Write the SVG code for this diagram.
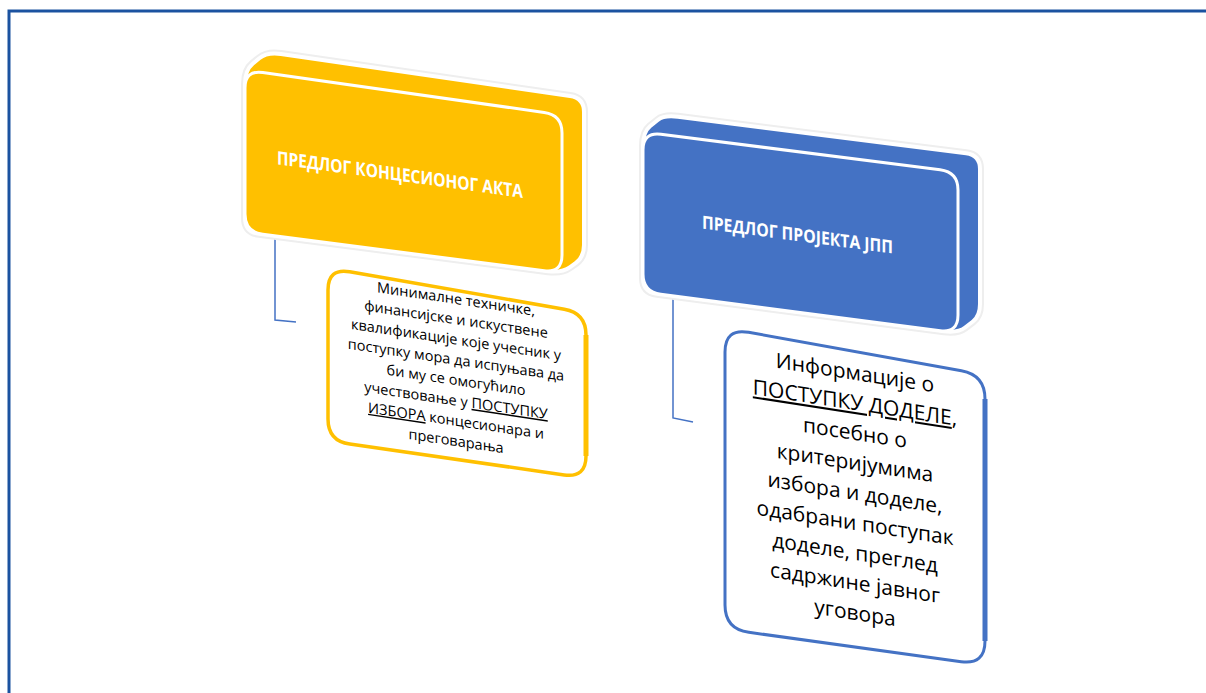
<svg xmlns="http://www.w3.org/2000/svg" width="1206" height="693" viewBox="0 0 1206 693">
  <style>
    .halo { fill: none; stroke: #eeeeee; stroke-width: 8; stroke-linejoin: round; }
    .hullY { fill: #FFC000; stroke: #ffffff; stroke-width: 4; stroke-linejoin: round; }
    .hullB { fill: #4472C4; stroke: #ffffff; stroke-width: 4; stroke-linejoin: round; }
    .faceY { fill: #FFC000; stroke: #ffffff; stroke-width: 3; }
    .faceB { fill: #4472C4; stroke: #ffffff; stroke-width: 3; }
    .detY { fill: #ffffff; stroke: #FFC000; stroke-width: 3.5; }
    .detB { fill: #ffffff; stroke: #4472C4; stroke-width: 3; }
    .title { font-family: "Open Sans", "Noto Sans", sans-serif; font-weight: 700; fill: #ffffff; text-anchor: middle; }
    .body { font-family: "Open Sans", "Noto Sans", sans-serif; font-weight: 500; fill: #000000; text-anchor: middle; }
    .conn { fill: none; stroke: #4472C4; stroke-width: 1.5; }
    .u { text-decoration: underline; }
  </style>
  <rect x="0" y="0" width="1206" height="693" fill="#ffffff"/>
  <path d="M 9,693 L 9,11 L 1206,11" fill="none" stroke="#1B52A0" stroke-width="3"/>

  <g id="connectors">
    <path class="conn" d="M 275,236 L 275,320 L 296,322"/>
    <path class="conn" d="M 673,296 L 673,418 L 693,422"/>
  </g>

  <g id="node-concession-act">
    <path class="halo" d="M 245,218 L 245,84 Q 245,70 252.7,63.7 L 259.3,58.3 Q 267,52 280.9,54 L 570.1,96 Q 584,98 584,112 L 584,245 Q 584,257 575.9,262.9 L 570.1,267.1 Q 562,273 548.1,271.2 L 258.9,233.8 Q 245,232 245,218 Z"/>
    <path class="hullY" d="M 245,218 L 245,84 Q 245,70 252.7,63.7 L 259.3,58.3 Q 267,52 280.9,54 L 570.1,96 Q 584,98 584,112 L 584,245 Q 584,257 575.9,262.9 L 570.1,267.1 Q 562,273 548.1,271.2 L 258.9,233.8 Q 245,232 245,218 Z"/>
    <path class="faceY" d="M 245,214 L 245,88 Q 245,70 262.8,72.5 L 544.2,112.5 Q 562,115 562,133 L 562,255 Q 562,273 544.2,270.7 L 262.8,234.3 Q 245,232 245,214 Z"/>
    <text class="title" font-size="18.5" transform="translate(400,181) skewY(7.8)" x="0" y="0" textLength="246" lengthAdjust="spacingAndGlyphs">ПРЕДЛОГ КОНЦЕСИОНОГ АКТА</text>
  </g>

  <g id="node-concession-detail">
    <path class="detY" d="M 328,419 L 328,290 Q 328,268 349.7,271.8 L 564.3,309.2 Q 586,313 586,335 L 586,456 Q 586,478 564.2,474.9 L 349.8,444.1 Q 328,441 328,419 Z"/>
    <path d="M 586,335 L 586,456" fill="none" stroke="#FFC000" stroke-width="5"/>
    <g class="body" font-size="14.5" transform="translate(456,0) skewY(8.5)">
      <text x="0" y="304">Минималне техничке,</text>
      <text x="0" y="324.3">финансијске и искуствене</text>
      <text x="0" y="344.6">квалификације које учесник у</text>
      <text x="0" y="364.9">поступку мора да испуњава да</text>
      <text x="0" y="385.2">би му се омогућило</text>
      <text x="0" y="405.5">учествовање у <tspan class="u">ПОСТУПКУ</tspan></text>
      <text x="0" y="425.8"><tspan class="u">ИЗБОРА</tspan> концесионара и</text>
      <text x="0" y="446.1">преговарања</text>
    </g>
  </g>

  <g id="node-ppp-project">
    <path class="halo" d="M 643,278 L 643,146 Q 643,132 650,126.3 L 657.8,120 Q 664,115 677.9,116.8 L 966.1,153.2 Q 980,155 980,169 L 980,304 Q 980,316 972.9,321.5 L 965.1,327.5 Q 958,333 944.1,331.2 L 656.9,293.8 Q 643,292 643,278 Z"/>
    <path class="hullB" d="M 643,278 L 643,146 Q 643,132 650,126.3 L 657.8,120 Q 664,115 677.9,116.8 L 966.1,153.2 Q 980,155 980,169 L 980,304 Q 980,316 972.9,321.5 L 965.1,327.5 Q 958,333 944.1,331.2 L 656.9,293.8 Q 643,292 643,278 Z"/>
    <path class="faceB" d="M 643,274 L 643,150 Q 643,132 660.9,134.3 L 940.1,169.7 Q 958,172 958,190 L 958,315 Q 958,333 940.2,330.7 L 660.8,294.3 Q 643,292 643,274 Z"/>
    <text class="title" font-size="18" transform="translate(797.5,241) skewY(7.5)" x="0" y="0" textLength="191" lengthAdjust="spacingAndGlyphs">ПРЕДЛОГ ПРОЈЕКТА ЈПП</text>
  </g>

  <g id="node-ppp-detail">
    <path class="detB" d="M 725,605 L 725,352 Q 725,328 748.6,332.3 L 961.4,370.7 Q 985,375 985,399 L 985,641 Q 985,665 961.2,661.7 L 748.8,632.3 Q 725,629 725,605 Z"/>
    <path d="M 985,399 L 985,641" fill="none" stroke="#4472C4" stroke-width="5"/>
    <g class="body" font-size="21" transform="translate(855,0) skewY(8.8)">
      <text x="0" y="380">Информације о</text>
      <text x="0" y="410"><tspan class="u">ПОСТУПКУ ДОДЕЛЕ</tspan>,</text>
      <text x="0" y="440">посебно о</text>
      <text x="0" y="470">критеријумима</text>
      <text x="0" y="500">избора и доделе,</text>
      <text x="0" y="530">одабрани поступак</text>
      <text x="0" y="560">доделе, преглед</text>
      <text x="0" y="590">садржине јавног</text>
      <text x="0" y="620">уговора</text>
    </g>
  </g>
</svg>
